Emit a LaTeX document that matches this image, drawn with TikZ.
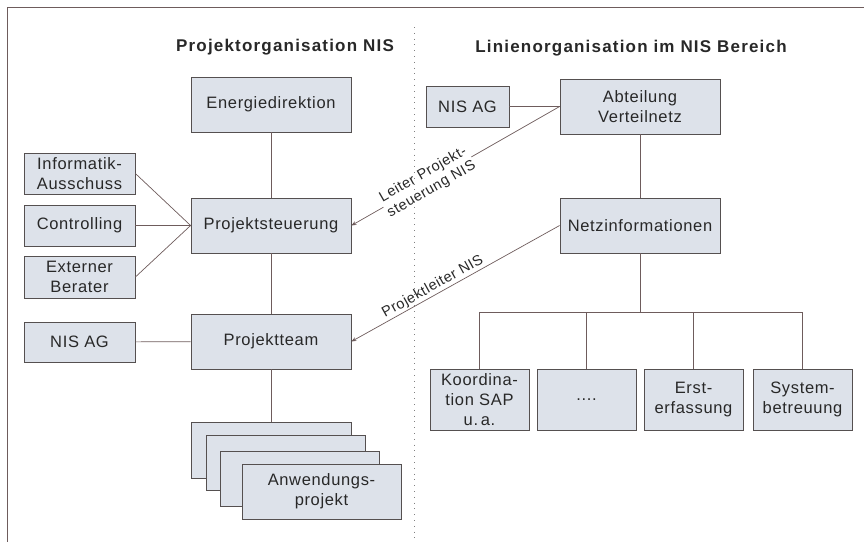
\documentclass[tikz,border=0pt]{standalone}
\usepackage{fontspec}
\setmainfont{Liberation Sans}[LetterSpace=4]
\newfontfamily\headfont{Liberation Sans}[LetterSpace=7]
\usetikzlibrary{arrows.meta}
\definecolor{boxfill}{RGB}{221,226,234}
\definecolor{boxline}{RGB}{85,80,80}
\definecolor{linkline}{RGB}{110,92,92}
\definecolor{textgray}{RGB}{40,40,40}

\begin{document}
\begin{tikzpicture}[x=1pt, y=-1pt,
  box/.style={draw=boxline, fill=boxfill, line width=0.8pt, inner sep=0pt, align=center, text=textgray, font=\fontsize{16.5}{20}\selectfont},
  big/.style={box, minimum width=160pt, minimum height=55pt},
  side/.style={box, minimum width=111pt, minimum height=41pt},
  unit/.style={box, minimum width=99pt, minimum height=61pt},
  link/.style={draw=linkline, line width=0.7pt},
  arr/.style={link, -{Stealth[length=5pt, width=4pt]}},
  title/.style={font=\headfont\bfseries\fontsize{17}{20}\selectfont, text=textgray},
  lbl/.style={font=\fontsize{14.5}{17}\selectfont, text=textgray, sloped, align=center}]
  \useasboundingbox (0,0) rectangle (864,542);

  % Rahmen und Trennlinie
  \draw[linkline, line width=0.8pt] (864,7) -- (7,7) -- (7,542);

  % Ueberschriften
  \node[title] (titlep) at (285,47) {Projektorganisation NIS};
  \node[title] (titlel) at (631,48) {Linienorganisation im NIS Bereich};

  % Projektorganisation
  \node[big] (ener) at (271,104.5) {Energiedirektion};
  \node[big] (steu) at (271,225.5) {Projektsteuerung};
  \node[big] (team) at (271,341.5) {Projektteam};
  \node[side] (info) at (79.5,173.5) {Informatik-\\Ausschuss};
  \node[side] (ctrl) at (79.5,225.5) {Controlling};
  \node[side, minimum height=42pt] (ext) at (79.5,277) {Externer\\Berater};
  \node[side, minimum height=40pt] (nisl) at (79.5,342) {NIS AG};

  % gestapelte Anwendungsprojekte
  \node[big, minimum height=56pt] (proja) at (271,450) {};
  \node[big, minimum width=159pt] (projb) at (285.5,462.5) {};
  \node[big, minimum width=159pt] (projc) at (299.5,478.5) {};
  \node[big, minimum width=159pt] (projd) at (321.5,491.5) {Anwendungs-\\projekt};

  \draw[link] (ener) -- (steu);
  \draw[link] (steu) -- (team);
  \draw[link] (team) -- (proja);
  \draw[link] (info.east) -- (steu.west);
  \draw[link] (ctrl.east) -- (steu.west);
  \draw[link] (ext.east) -- (steu.west);
  \draw[link] (nisl) -- (team);

  % Linienorganisation
  \node[box, minimum width=83pt, minimum height=41pt] (nisr) at (467.5,106.5) {NIS AG};
  \node[big] (abt) at (640,106.5) {Abteilung\\Verteilnetz};
  \node[big] (netz) at (640,225.5) {Netzinformationen};
  \node[unit] (koord) at (479.5,399.5) {Koordina-\\tion SAP\\u.\,a.};
  \node[unit] (dots) at (586.5,399.5) {....};
  \node[unit] (erst) at (693.5,399.5) {Erst-\\erfassung};
  \node[unit] (sys) at (802.5,399.5) {System-\\betreuung};
  \coordinate (bus) at (640,312);

  \draw[link] (nisr) -- (abt);
  \draw[link] (abt) -- (netz);
  \draw[link] (netz) -- (bus);
  \draw[link] (koord.north) -- (koord.north |- bus) -- (sys.north |- bus) -- (sys.north);
  \draw[link] (dots.north) -- (dots.north |- bus);
  \draw[link] (erst.north) -- (erst.north |- bus);

  % Verbindungen zwischen den Organisationen
  \draw[arr] (abt.west) -- (steu.east)
    node[lbl, pos=0.635, fill=white, inner sep=1pt] {Leiter Projekt-\\steuerung NIS};
  \draw[arr] (netz.west) -- (team.east)
    node[lbl, pos=0.59, above=0.5pt, inner sep=0.5pt] {Projektleiter NIS};

  \draw[gray, line width=0.8pt, dash pattern=on 0.8pt off 5pt] (414,27) -- (414,542);
\end{tikzpicture}
\end{document}
